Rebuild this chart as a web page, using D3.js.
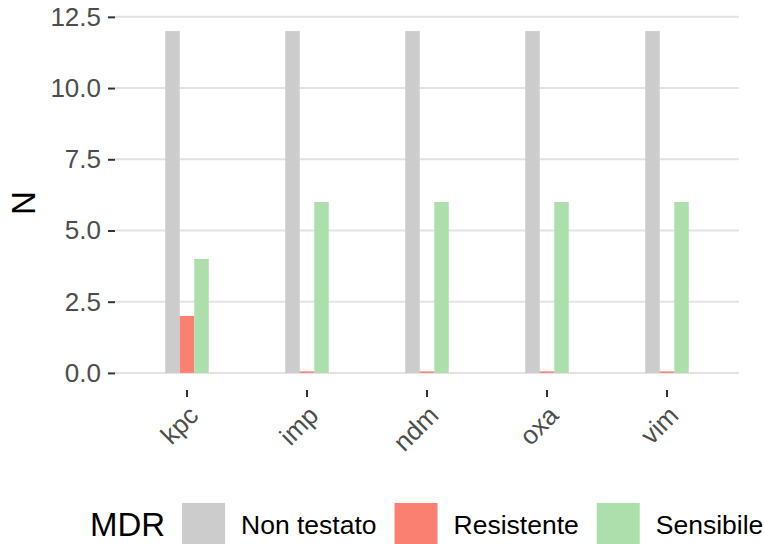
<!DOCTYPE html>
<html>
<head>
<meta charset="utf-8">
<script src="https://cdn.jsdelivr.net/npm/d3@7"></script>
<style>
  body { margin: 0; background: #fff; }
  text { font-family: "Liberation Sans", Arial, sans-serif; }
</style>
</head>
<body>
<svg id="chart" width="764" height="544"></svg>
<script>
// data
const categories = ["kpc", "imp", "ndm", "oxa", "vim"];
const seriesNames = ["Non testato", "Resistente", "Sensibile"];
const nonTestato = [12, 12, 12, 12, 12];
const resistente = [2, 0, 0, 0, 0];
const sensibile = [4, 6, 6, 6, 6];
const yTicks = [0, 2.5, 5, 7.5, 10, 12.5];
const colors = ["#CCCCCC", "#FA8072", "#ACDFAC"];

const allSeries = [nonTestato, resistente, sensibile];
const rows = [];
categories.forEach(function(c, i) {
    seriesNames.forEach(function(s, j) {
        rows.push({cat: c, series: s, value: allSeries[j][i]});
    });
});

const svg = d3.select("#chart");
const panel = {left: 115, right: 739, top: 14, bottom: 390};

let x = d3.scaleBand().domain(categories)
    .range([panel.left, panel.right])
    .paddingInner(0.6375).paddingOuter(0.41875);
let xInner = d3.scaleBand().domain(seriesNames).range([0, x.bandwidth()]);
let y = d3.scaleLinear().domain([-0.6, 12.6]).range([panel.bottom, panel.top]);
let color = d3.scaleOrdinal().domain(seriesNames).range(colors);

// grid
svg.append("g").selectAll("line").data(yTicks).enter().append("line")
    .attr("x1", panel.left).attr("x2", panel.right)
    .attr("y1", d => y(d)).attr("y2", d => y(d))
    .attr("stroke", "#E3E3E3").attr("stroke-width", 2);

// bars (zero values still show a thin sliver, like the original)
svg.append("g").selectAll("rect").data(rows).enter().append("rect")
    .attr("x", d => x(d.cat) + xInner(d.series))
    .attr("width", xInner.bandwidth())
    .attr("y", d => d.value > 0 ? y(d.value) : y(0) - 1.5)
    .attr("height", d => d.value > 0 ? y(0) - y(d.value) : 1.5)
    .attr("fill", d => color(d.series));

// y axis
let yAxis = d3.axisLeft(y).tickValues(yTicks).tickSize(7).tickPadding(7)
    .tickFormat(d3.format(".1f"));
let gy = svg.append("g").attr("transform", "translate(" + (panel.left) + ",0)").call(yAxis);
gy.select(".domain").remove();
gy.selectAll(".tick line").attr("stroke", "#333333").attr("stroke-width", 2);
gy.selectAll(".tick text").attr("fill", "#4D4D4D").style("font-size", "26px")
    .attr("font-family", null);

// x axis
let xAxis = d3.axisBottom(x).tickSize(7).tickPadding(0);
let gx = svg.append("g").attr("transform", "translate(0," + panel.bottom + ")").call(xAxis);
gx.select(".domain").remove();
gx.selectAll(".tick line").attr("stroke", "#333333").attr("stroke-width", 2);
gx.selectAll(".tick text")
    .attr("fill", "#4D4D4D").style("font-size", "26px").attr("font-family", null)
    .attr("text-anchor", "end")
    .attr("y", 0)
    .attr("transform", "translate(0,14) rotate(-45)")
    .attr("dy", "0.71em");

// y title
svg.append("text")
    .attr("transform", "translate(35,203) rotate(-90)")
    .attr("text-anchor", "middle")
    .style("font-size", "33px")
    .text("N");

// legend
const legY = 503, keySize = 43;
let leg = svg.append("g");
leg.append("text").attr("x", 90).attr("y", 524.5).attr("dy", "0.35em")
    .style("font-size", "33px").text("MDR");
let lx = 182;
seriesNames.forEach(function(s) {
    leg.append("rect").attr("x", lx).attr("y", legY)
        .attr("width", keySize).attr("height", keySize).attr("fill", color(s));
    let t = leg.append("text").attr("x", lx + keySize + 16).attr("y", 524.5)
        .attr("dy", "0.35em").style("font-size", "26.5px").text(s);
    lx = lx + keySize + 16 + t.node().getComputedTextLength() + 18;
});
</script>
</body>
</html>
